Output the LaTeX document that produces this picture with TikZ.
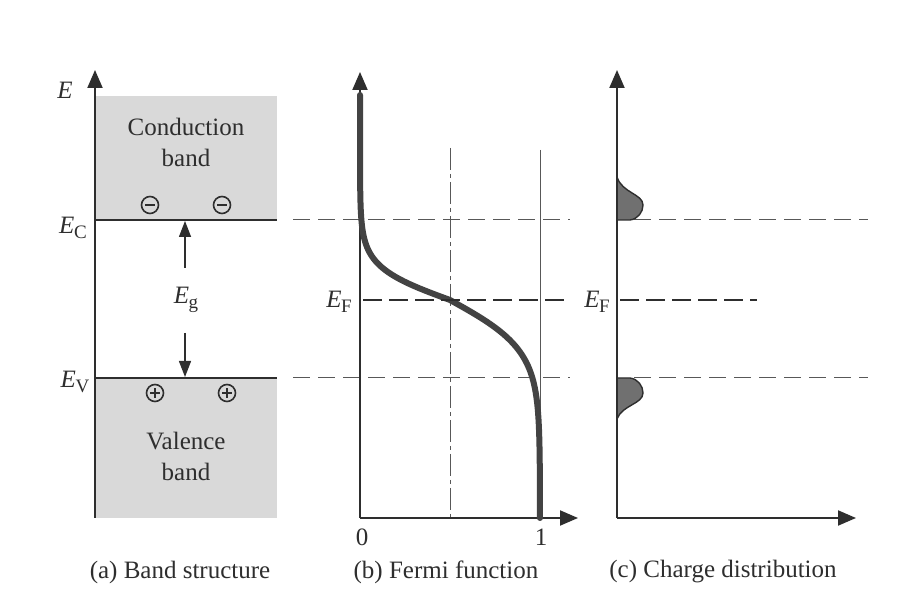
\documentclass[tikz,border=0pt]{standalone}
\usepackage{fontspec}
\setmainfont{Liberation Serif}
\usetikzlibrary{arrows.meta}
\definecolor{ink}{HTML}{2E2E2E}
\definecolor{bandgray}{HTML}{D9D9D9}
\definecolor{blobgray}{HTML}{707070}
\newcommand{\Elab}[1]{\textit{E}\kern-0.2pt\raisebox{-0.4ex}{\fontsize{9.5}{10}\selectfont #1}}
\tikzset{
  axisline/.style={draw=ink, line width=1pt},
  bigtip/.style={-{Triangle[length=9pt,width=7.5pt]}},
  egarrow/.style={draw=ink, line width=0.7pt, -{Triangle[length=8pt,width=6pt]}},
  levelline/.style={draw=ink, line width=1pt},
  thindash/.style={draw=ink!80, line width=0.5pt, dash pattern=on 8.5pt off 4pt},
  efdash/.style={draw=ink, line width=1.4pt, dash pattern=on 9.5pt off 3.5pt},
  dashdot/.style={draw=ink!80, line width=0.5pt, dash pattern=on 11pt off 2pt on 2pt off 2pt},
  guide/.style={draw=ink!80, line width=0.5pt},
  fermi/.style={draw=ink!90, line width=3pt, line cap=round},
  chg/.style={circle, draw=ink, line width=0.8pt, minimum size=8.5pt, inner sep=0pt},
  blob/.style={fill=blobgray, draw=ink, line width=0.7pt},
  lbl/.style={text=ink, inner sep=1pt},
  bandtext/.style={text=ink, align=center, font=\fontsize{12.5}{15.5}\selectfont}
}
\begin{document}
\begin{tikzpicture}[x=0.5pt,y=-0.5pt, font=\fontsize{12.5}{14}\selectfont]
\useasboundingbox[fill=white] (0,0) rectangle (920,613);

% ---------- (a) band structure ----------
\fill[bandgray] (95,96) rectangle (277,220);
\fill[bandgray] (95,378) rectangle (277,518);
\coordinate (aO) at (95,518);
\coordinate (aT) at (95,70);
\coordinate (ECl) at (95,220);
\coordinate (ECr) at (277,220);
\coordinate (EVl) at (95,378);
\coordinate (EVr) at (277,378);
\draw[levelline] (ECl) -- (ECr);
\draw[levelline] (EVl) -- (EVr);
\draw[axisline, bigtip] (aO) -- (aT);
\node[lbl] (E) at (65,90) {\textit{E}};
\node[lbl] (EC) at (73,228) {\Elab{C}};
\node[lbl] (EV) at (75,382) {\Elab{V}};
\node[bandtext] (cb) at (186,142) {Conduction\\band};
\node[bandtext] (vb) at (186,456) {Valence\\band};

\node[chg] (m1) at (150,205) {};
\node[chg] (m2) at (222,205) {};
\node[chg] (p1) at (155,393) {};
\node[chg] (p2) at (227,393) {};
\foreach \c in {m1,m2,p1,p2}{
  \draw[ink, line width=0.9pt] ([xshift=-2.4pt]\c.center) -- ([xshift=2.4pt]\c.center);
}
\foreach \c in {p1,p2}{
  \draw[ink, line width=0.9pt] ([yshift=-2.4pt]\c.center) -- ([yshift=2.4pt]\c.center);
}

\coordinate (egA) at (185,268);
\coordinate (egAt) at (185,221);
\coordinate (egB) at (185,333);
\coordinate (egBt) at (185,377);
\draw[egarrow] (egA) -- (egAt);
\draw[egarrow] (egB) -- (egBt);
\node[lbl] (Eg) at (186,300) {\Elab{g}};

% dashed level lines
\coordinate (dC1) at (293,220); \coordinate (dC2) at (570,220);
\coordinate (dC3) at (634,220); \coordinate (dC4) at (868,220);
\coordinate (dV1) at (293,378); \coordinate (dV2) at (570,378);
\coordinate (dV3) at (634,378); \coordinate (dV4) at (868,378);
\draw[thindash] (dC1) -- (dC2);
\draw[thindash] (dC3) -- (dC4);
\draw[thindash] (dV1) -- (dV2);
\draw[thindash] (dV3) -- (dV4);

% ---------- (b) Fermi function ----------
\coordinate (bO) at (360,518);
\coordinate (bT) at (360,72);
\coordinate (bR) at (578,518);
\coordinate (hT) at (450,148);
\coordinate (hB) at (450,518);
\coordinate (oT) at (540,150);
\coordinate (oB) at (540,518);
\draw[dashdot] (hT) -- (hB);
\draw[guide] (oT) -- (oB);
\draw[axisline, bigtip] (bO) -- (bT);
\draw[axisline, bigtip] (bO) -- (bR);
\draw[fermi] plot[domain=95:300, samples=90, variable=\t]
   ({360+180/(1+exp(min(9,-(\t-300)/16.5)))},\t)
  -- plot[domain=300:518, samples=90, variable=\t]
   ({360+180/(1+exp(-(\t-300)/25))},\t);
\coordinate (f1) at (363,300); \coordinate (f2) at (568,300);
\coordinate (f3) at (620,300); \coordinate (f4) at (757,300);
\draw[efdash] (f1) -- (f2);
\draw[efdash] (f3) -- (f4);
\node[lbl] (EFb) at (339,302) {\Elab{F}};
\node[lbl] (zero) at (362,537) {0};
\node[lbl] (one) at (541,537) {1};

% ---------- (c) charge distribution ----------
\coordinate (cO) at (617,518);
\coordinate (cT) at (617,70);
\coordinate (cR) at (856,518);
\filldraw[blob] (617,220) -- (630,220) .. controls (638,219) and (643,212) .. (643,205)
   .. controls (643,194) and (622,193) .. (617,177) -- cycle;
\filldraw[blob] (617,378) -- (630,378) .. controls (638,379) and (643,386) .. (643,393)
   .. controls (643,404) and (622,405) .. (617,419) -- cycle;
\draw[axisline, bigtip] (cO) -- (cT);
\draw[axisline, bigtip] (cO) -- (cR);
\node[lbl] (EFc) at (597,302) {\Elab{F}};

% ---------- captions ----------
\node[lbl] (capa) at (180,572) {(a) Band structure};
\node[lbl] (capb) at (446,572) {(b) Fermi function};
\node[lbl] (capc) at (723,572) {(c) Charge distribution};
\end{tikzpicture}
\end{document}
